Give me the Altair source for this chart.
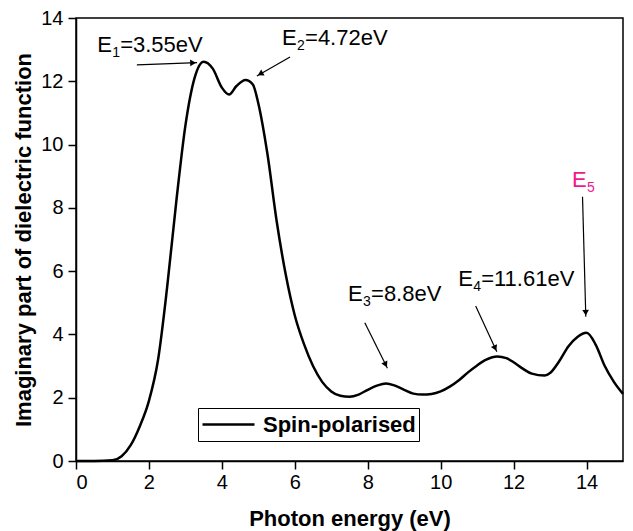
import math
import altair as alt
import pandas as pd

# ---- data ----
energy = [0.0, 0.5, 1.0, 1.25, 1.5, 1.75, 2.0, 2.25, 2.5, 2.75, 3.0, 3.25, 3.5, 3.75,
          4.0, 4.2, 4.4, 4.65, 4.85, 5.0, 5.25, 5.5, 5.75, 6.0, 6.25, 6.5, 6.75, 7.0,
          7.25, 7.5, 7.75, 8.0, 8.25, 8.5, 8.75, 9.0, 9.25, 9.5, 9.75, 10.0, 10.25,
          10.5, 10.75, 11.0, 11.25, 11.55, 11.8, 12.0, 12.25, 12.5, 12.85, 13.0, 13.25,
          13.5, 13.75, 14.0, 14.25, 14.5, 14.75, 15.0]
eps2 = [0.0, 0.0, 0.02, 0.15, 0.5, 1.1, 1.9, 3.2, 5.5, 8.2, 10.6, 12.1, 12.62, 12.4,
        11.8, 11.58, 11.85, 12.04, 11.9, 11.3, 9.7, 7.6, 5.9, 4.6, 3.7, 3.0, 2.5, 2.2,
        2.06, 2.03, 2.1, 2.25, 2.38, 2.45, 2.38, 2.25, 2.13, 2.1, 2.12, 2.2, 2.35,
        2.55, 2.8, 3.02, 3.2, 3.3, 3.25, 3.12, 2.92, 2.76, 2.7, 2.78, 3.15,
        3.62, 3.92, 4.05, 3.68, 3.0, 2.5, 2.12]
series_name = ["Spin-polarised"]

label_main = ["E", "E", "E", "E", "E"]
label_sub = ["1", "2", "3", "4", "5"]
label_rest = ["=3.55eV", "=4.72eV", "=8.8eV", "=11.61eV", ""]
label_x = [0.58, 5.65, 7.46, 10.48, 13.6]
label_y = [12.92, 13.15, 5.05, 5.52, 8.67]
label_color = ["black", "black", "black", "black", "#F0198C"]

arrow_x1 = [1.67, 5.87, 7.92, 10.96, 13.89]
arrow_y1 = [12.52, 12.77, 4.37, 4.90, 8.35]
arrow_x2 = [3.32, 4.96, 8.54, 11.54, 13.98]
arrow_y2 = [12.59, 12.17, 2.93, 3.45, 4.56]

# ---- layout ----
W, H = 547, 443
X_MAX, Y_MAX = 15, 14
kx, ky = W / X_MAX, H / Y_MAX
FONT = "Liberation Sans"

curve = pd.DataFrame({"energy": energy, "eps2": eps2, "series": series_name[0]})
labels = pd.DataFrame({"x": label_x, "y": label_y, "main": label_main,
                       "sub": label_sub, "rest": label_rest, "color": label_color})

heads = []
for x1, y1, x2, y2 in zip(arrow_x1, arrow_y1, arrow_x2, arrow_y2):
    dxs, dys = (x2 - x1) * kx, -(y2 - y1) * ky
    ln = math.hypot(dxs, dys)
    ux, uy = dxs / ln, dys / ln
    heads.append({"x": x2 - 4 * ux / kx, "y": y2 + 4 * uy / ky,
                  "angle": math.degrees(math.atan2(dys, dxs)) % 360})
arrows = pd.DataFrame({"x1": arrow_x1, "y1": arrow_y1, "x2": arrow_x2, "y2": arrow_y2})
heads = pd.DataFrame(heads)

xs = alt.Scale(domain=[0, X_MAX], nice=False, zero=False)
ys = alt.Scale(domain=[0, Y_MAX], nice=False, zero=False)

tick_size = {"condition": {"test": "datum.value % 2 !== 0", "value": 4}, "value": 8}

x_axis = alt.Axis(title="Photon energy (eV)", values=list(range(0, 16)),
                  labelExpr="datum.value % 2 === 0 ? datum.label : ''",
                  tickSize=tick_size, grid=False, labelPadding=3, titlePadding=16)
y_axis = alt.Axis(title="Imaginary part of dielectric function", values=list(range(0, 15)),
                  labelExpr="datum.value % 2 === 0 ? datum.label : ''",
                  tickSize=tick_size, grid=False, labelPadding=5, titlePadding=5)

line = alt.Chart(curve).mark_line(strokeWidth=2.5, interpolate="monotone").encode(
    x=alt.X("energy:Q", scale=xs, axis=x_axis),
    y=alt.Y("eps2:Q", scale=ys, axis=y_axis),
    color=alt.Color("series:N", scale=alt.Scale(domain=series_name, range=["black"]),
                    legend=alt.Legend(title=None, orient="none", legendX=122, legendY=390,
                                      strokeColor="black", fillColor="white", padding=3,
                                      symbolType="stroke", symbolSize=2704,
                                      symbolStrokeWidth=2.5, labelFontSize=22,
                                      labelFontWeight="bold", labelFont=FONT,
                                      labelColor="black", labelOffset=7,
                                      clipHeight=27,
                                      symbolStrokeColor="black")),
)

rules = alt.Chart(arrows).mark_rule(strokeWidth=1.2, color="black").encode(
    x="x1:Q", y="y1:Q", x2="x2:Q", y2="y2:Q")

head_marks = alt.Chart(heads).mark_point(shape="triangle-right", filled=True, size=45,
                                         color="black", opacity=1).encode(
    x="x:Q", y="y:Q", angle=alt.Angle("angle:Q", scale=None))

txt_main = alt.Chart(labels).mark_text(align="left", baseline="alphabetic", fontSize=22,
                                       font=FONT).encode(
    x="x:Q", y="y:Q", text="main:N", color=alt.Color("color:N", scale=None))
txt_sub = alt.Chart(labels).mark_text(align="left", baseline="alphabetic", fontSize=14,
                                      font=FONT, dx=15, dy=5).encode(
    x="x:Q", y="y:Q", text="sub:N", color=alt.Color("color:N", scale=None))
txt_rest = alt.Chart(labels).mark_text(align="left", baseline="alphabetic", fontSize=22,
                                       font=FONT, dx=23).encode(
    x="x:Q", y="y:Q", text="rest:N", color=alt.Color("color:N", scale=None))

chart = alt.layer(line, rules, head_marks, txt_main, txt_sub, txt_rest).properties(
    width=W, height=H,
    padding={"left": 76, "top": 18, "right": 10, "bottom": 70},
    autosize=alt.AutoSizeParams(type="none"),
    background="white",
).configure_view(stroke="black", strokeWidth=1.5).configure_axis(
    domainColor="black", domainWidth=1.5, tickColor="black", tickWidth=1.5,
    labelFont=FONT, labelFontSize=20, labelColor="black",
    titleFont=FONT, titleFontSize=22, titleFontWeight="bold", titleColor="black",
)

chart.save("out.html", embed_options={"renderer": "svg", "actions": False})
